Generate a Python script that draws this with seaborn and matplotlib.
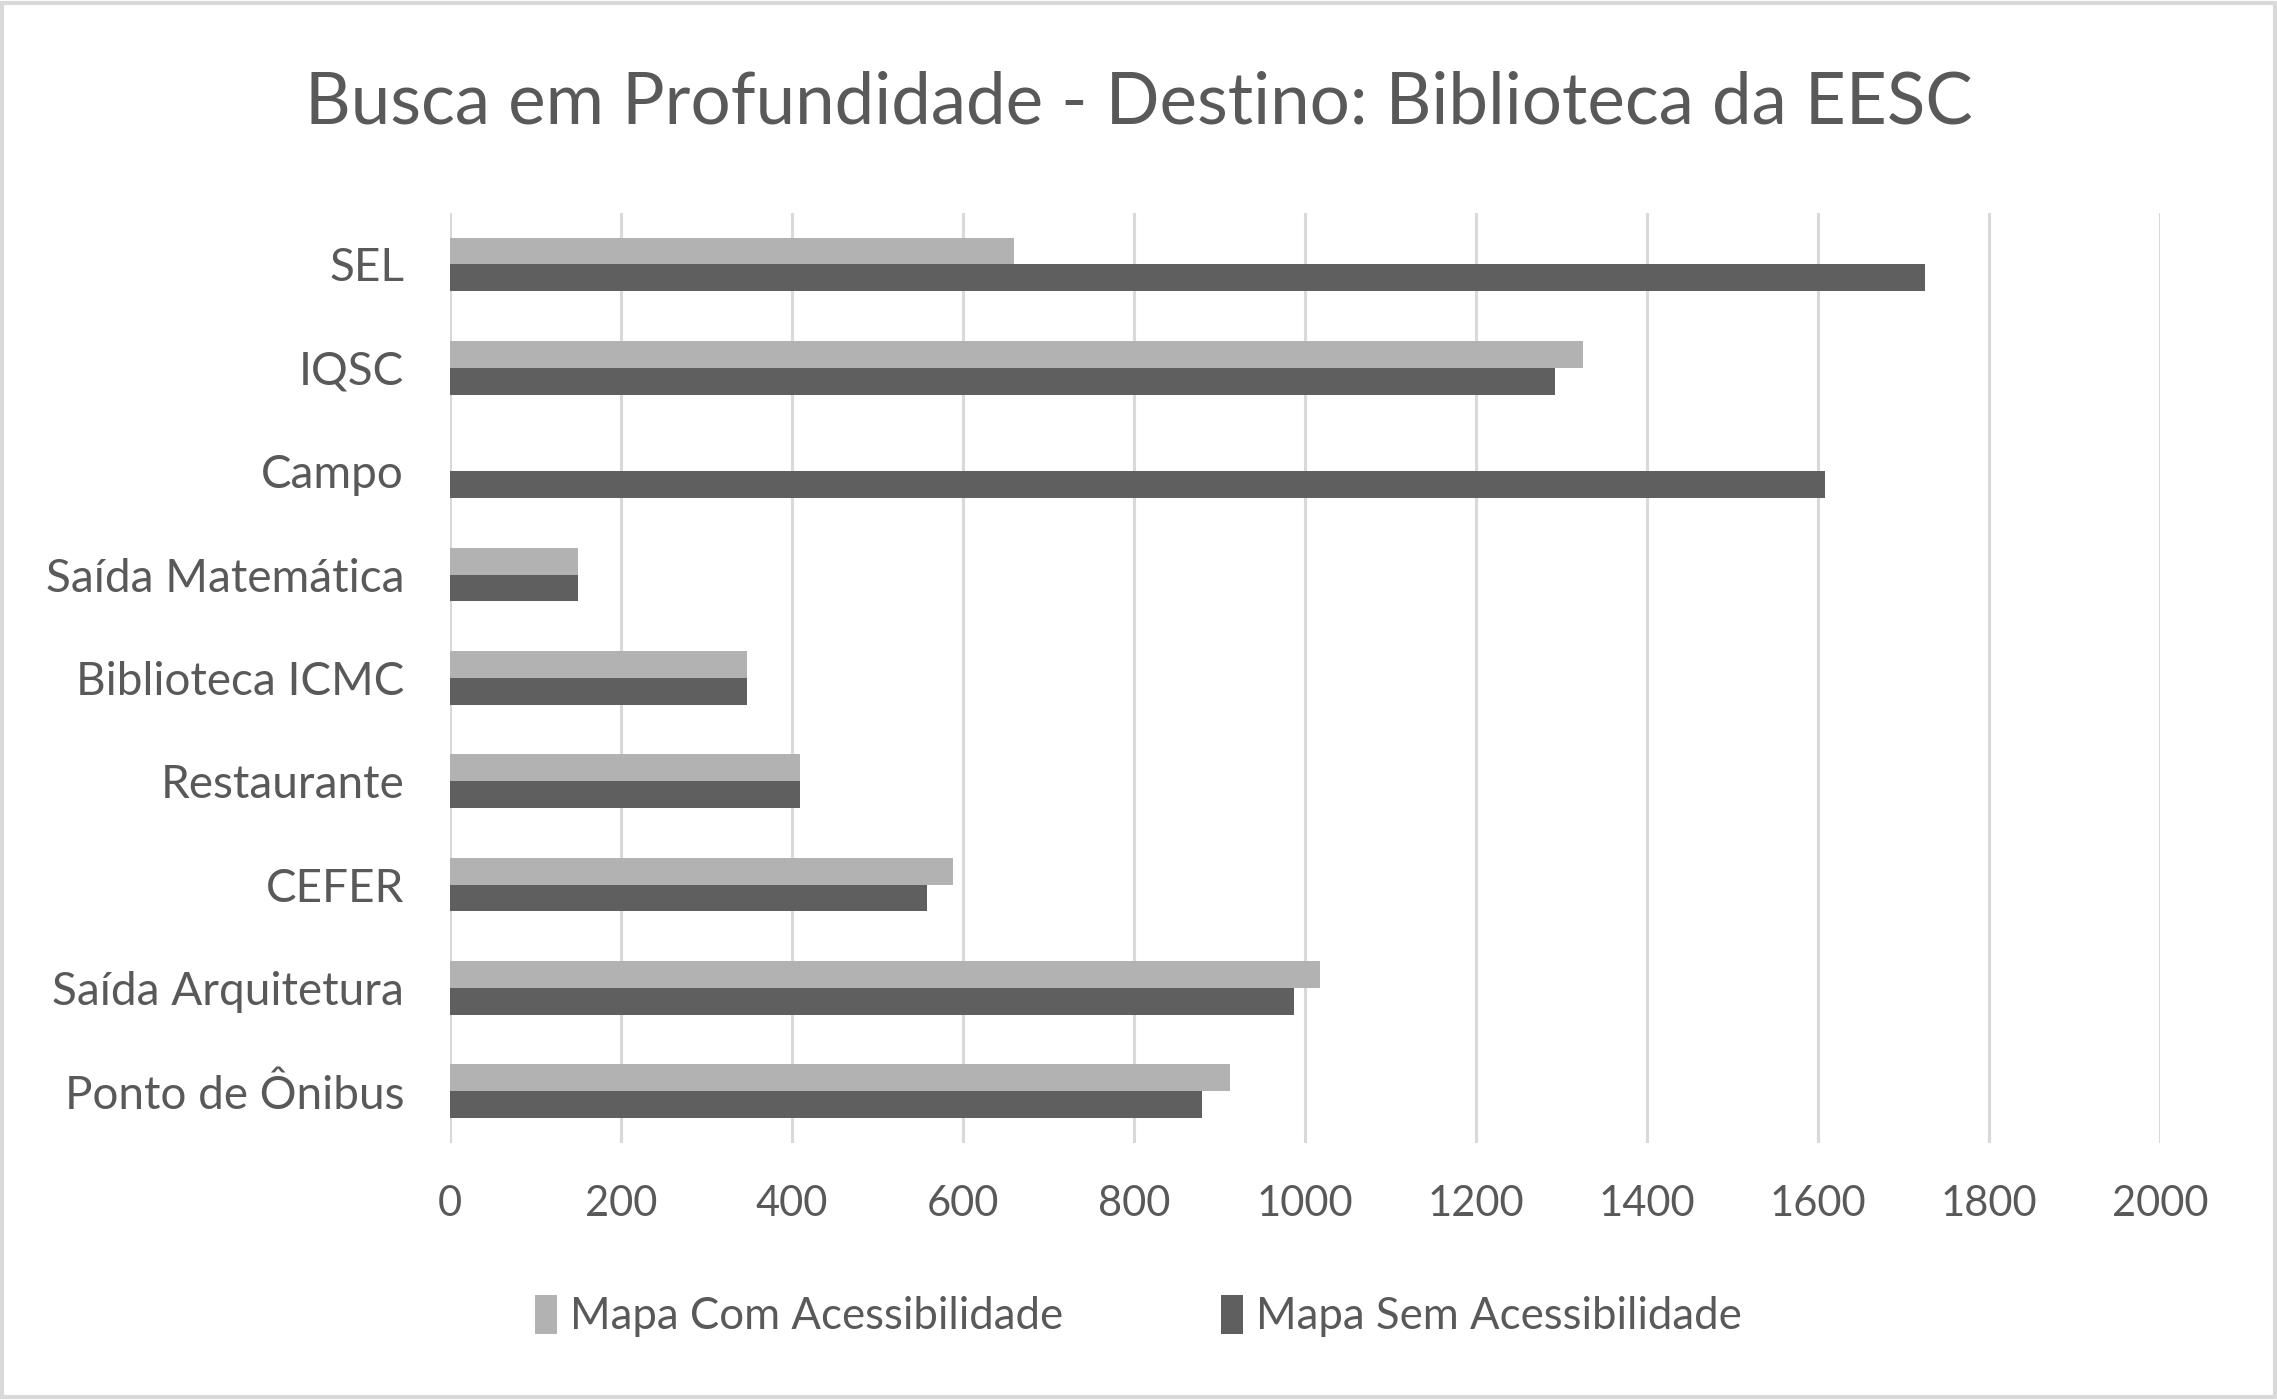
import matplotlib
matplotlib.use("Agg")
import matplotlib.pyplot as plt
import seaborn as sns
import pandas as pd

locais = ["SEL", "IQSC", "Campo", "Saída Matemática", "Biblioteca ICMC",
          "Restaurante", "CEFER", "Saída Arquitetura", "Ponto de Ônibus"]
com_acess = [660, 1325, 0, 150, 347, 409, 588, 1018, 912]
sem_acess = [1725, 1293, 1608, 150, 347, 409, 558, 987, 880]
series = ["Mapa Com Acessibilidade", "Mapa Sem Acessibilidade"]
ticks = [0, 200, 400, 600, 800, 1000, 1200, 1400, 1600, 1800, 2000]

df = pd.DataFrame({"local": locais * 2,
                   "valor": com_acess + sem_acess,
                   "serie": [series[0]] * len(locais) + [series[1]] * len(locais)})

sns.set_style("white")
plt.rcParams["font.family"] = ["Lato", "DejaVu Sans"]
txt = "#595959"

fig = plt.figure(figsize=(22.77, 14), dpi=100)
ax = fig.add_axes([0.1976, 0.1836, 0.751, 0.6644])

sns.barplot(data=df, y="local", x="valor", hue="serie", hue_order=series,
            order=locais, orient="h", palette=["#b2b2b2", "#5f5f5f"],
            width=0.52, saturation=1, linewidth=0, ax=ax, legend=True)

ax.set_xlim(0, 2000)
ax.set_ylim(8.5, -0.5)
ax.set_xticks(ticks)
ax.set_xticklabels([str(t) for t in ticks])
ax.xaxis.grid(True, color="#d9d9d9", linewidth=2.2)
ax.set_axisbelow(True)
for s in ax.spines.values():
    s.set_visible(False)
ax.tick_params(axis="y", length=0, labelsize=33, colors=txt, pad=33)
ax.tick_params(axis="x", length=0, labelsize=30, colors=txt, pad=30)
ax.set_xlabel("")
ax.set_ylabel("")

fig.suptitle("Busca em Profundidade - Destino: Biblioteca da EESC",
             fontsize=51, color=txt, y=0.95)

handles, labels = ax.get_legend_handles_labels()
ax.legend_.remove()
fig.legend(handles, labels, loc="center", bbox_to_anchor=(0.5, 0.06), ncol=2,
           frameon=False, fontsize=31.5, labelcolor=txt, handlelength=0.5,
           handleheight=1.0, handletextpad=0.3, columnspacing=3.6)

fig.patches.append(plt.Rectangle((0.001, 0.002), 0.998, 0.996, transform=fig.transFigure,
                                 fill=False, edgecolor="#d9d9d9", linewidth=3))

fig.savefig("out.png", dpi=100)
